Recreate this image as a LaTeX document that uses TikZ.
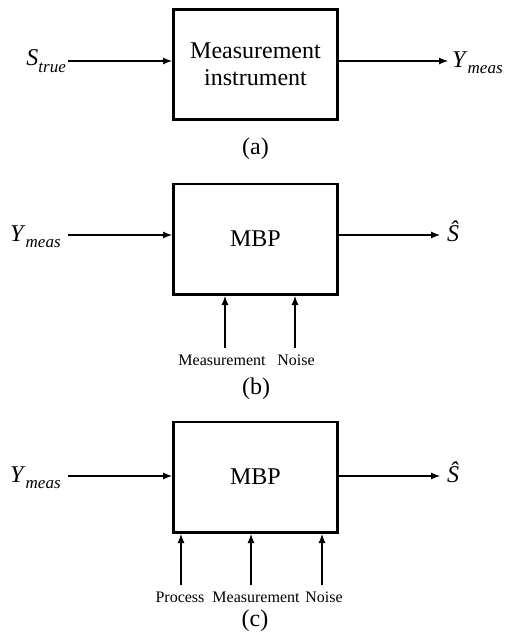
\documentclass[tikz,border=0pt]{standalone}
\usepackage{fontspec}
\setmainfont{Liberation Serif}
\usetikzlibrary{arrows.meta}
\newcommand{\bigfnt}{\fontsize{24}{28}\selectfont}
\newcommand{\smlfnt}{\fontsize{16}{18}\selectfont}
\newcommand{\subfnt}{\fontsize{17}{17}\selectfont}
\newcommand{\sym}[2]{\textit{#1}\raisebox{-0.28em}{\subfnt\itshape #2}}
\tikzset{
  blk/.style={draw, line width=2.6pt, minimum width=164.4pt, minimum height=110.4pt,
    inner sep=0pt, align=center, font=\bigfnt},
  arr/.style={-{Latex[length=9pt,width=7pt]}, line width=1.1pt},
  lbl/.style={font=\bigfnt, inner sep=0pt},
  small/.style={font=\smlfnt, inner sep=0pt},
}
\begin{document}
\begin{tikzpicture}[x=1pt,y=-1pt]
\useasboundingbox (0,0) rectangle (507,634);
% ---------- (a)
\node[blk] (ba) at (255.5,64.5) {Measurement\\[-1pt]instrument};
\coordinate (ain) at (ba.west |- 0,61);
\coordinate (aout) at (ba.east |- 0,61);
\node[lbl, anchor=base east] (strue) at (66,66) {\sym{S}{true}};
\node[lbl, anchor=base west] (ya) at (452,67) {\sym{Y}{meas}};
\draw[arr] (strue.east |- ain) ++(2,0) -- (ain);
\draw[arr] (aout) -- ([xshift=-4pt]ya.west |- aout);
\node[lbl, anchor=base] (capa) at (255.5,154) {(a)};
% ---------- (b)
\node[blk] (bb) at (255.5,239) {MBP};
\coordinate (bin) at (bb.west |- 0,235);
\coordinate (bout) at (bb.east |- 0,235);
\node[lbl, anchor=base west] (yb) at (10,241) {\sym{Y}{meas}};
\node[lbl, anchor=base west] (sb) at (447,241) {\textit{\^S}};
\draw[arr] ([xshift=7pt]yb.east |- bin) -- (bin);
\draw[arr] (bout) -- ([xshift=-7pt]sb.west |- bout);
\node[small, anchor=base] (mb) at (222,365) {Measurement};
\node[small, anchor=base] (nb) at (296,365) {Noise};
\coordinate (mbt) at (225,296);
\coordinate (nbt) at (295,296);
\draw[arr] (mbt |- 0,348) -- (mbt);
\draw[arr] (nbt |- 0,348) -- (nbt);
\node[lbl, anchor=base] (capb) at (256,394) {(b)};
% ---------- (c)
\node[blk] (bc) at (255.5,477) {MBP};
\coordinate (cin) at (bc.west |- 0,476);
\coordinate (cout) at (bc.east |- 0,476);
\node[lbl, anchor=base west] (yc) at (10,482) {\sym{Y}{meas}};
\node[lbl, anchor=base west] (sc) at (447,482) {\textit{\^S}};
\draw[arr] ([xshift=7pt]yc.east |- cin) -- (cin);
\draw[arr] (cout) -- ([xshift=-7pt]sc.west |- cout);
\node[small, anchor=base] (pc) at (180,602) {Process};
\node[small, anchor=base] (mc) at (256,602) {Measurement};
\node[small, anchor=base] (nc) at (324,602) {Noise};
\coordinate (pct) at (181,534);
\coordinate (mct) at (251,534);
\coordinate (nct) at (322,534);
\draw[arr] (pct |- 0,585) -- (pct);
\draw[arr] (mct |- 0,585) -- (mct);
\draw[arr] (nct |- 0,585) -- (nct);
\node[lbl, anchor=base] (capc) at (255,626) {(c)};
\end{tikzpicture}
\end{document}
